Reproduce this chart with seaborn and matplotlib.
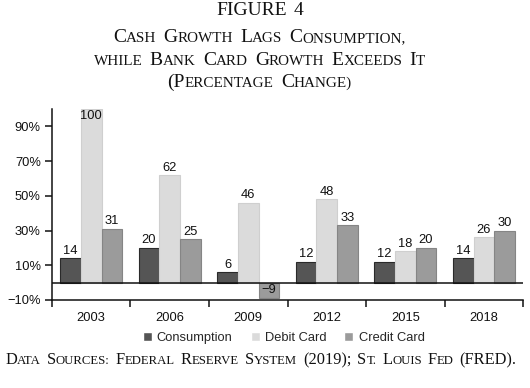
import numpy as np
import pandas as pd
import matplotlib
matplotlib.use("Agg")
import matplotlib.pyplot as plt
from matplotlib.offsetbox import TextArea, HPacker, AnchoredOffsetbox
from matplotlib.ticker import FixedLocator, FuncFormatter
import seaborn as sns

# Data
years = ["2003", "2006", "2009", "2012", "2015", "2018"]
series = ["Consumption", "Debit Card", "Credit Card"]
consumption = [14, 20, 6, 12, 12, 14]
debit_card = [100, 62, 46, 48, 18, 26]
credit_card = [31, 25, -9, 33, 20, 30]
y_ticks = [-10, 10, 30, 50, 70, 90]

colors = ["#555555", "#dbdbdb", "#9b9b9b"]
edges = ["#2a2a2a", "#cfcfcf", "#858585"]

SANS = "Liberation Sans"
SERIF = "Liberation Serif"
FS = 9.3

df = pd.DataFrame({
    "year": years * 3,
    "series": [s for s in series for _ in years],
    "value": consumption + debit_card + credit_card,
})

sns.set_theme(style="white")
plt.rcParams["font.family"] = [SANS, "DejaVu Sans"]


def small_caps(fig, text, x, y, size, loc="center", ratio=0.78, sep=0.36):
    """Fake small caps: lowercase letters drawn as smaller capitals."""
    words = []
    for word in text.split(" "):
        runs, cur, cur_small = [], "", False
        for ch in word:
            is_small = ch.islower() if ch.isalpha() else cur_small
            if cur and is_small != cur_small:
                runs.append((cur, cur_small))
                cur = ""
            cur += ch.upper() if is_small else ch
            cur_small = is_small
        if cur:
            runs.append((cur, cur_small))
        boxes = [TextArea(r, textprops=dict(fontsize=size * ratio if sm else size,
                                            family=SERIF, color="#111111"))
                 for r, sm in runs]
        words.append(HPacker(children=boxes, align="baseline", pad=0, sep=0))
    line = HPacker(children=words, align="baseline", pad=0, sep=size * sep)
    box = AnchoredOffsetbox(loc=loc, child=line, pad=0, borderpad=0, frameon=False,
                            bbox_to_anchor=(x, y), bbox_transform=fig.transFigure)
    fig.add_artist(box)


fig = plt.figure(figsize=(5.3, 3.88), dpi=100)
ax = fig.add_axes([0.098, 0.227, 0.889, 0.492])

sns.barplot(data=df, x="year", y="value", hue="series", palette=colors,
            width=0.79, saturation=1, ax=ax)

ymax = 100
for cont, ec in zip(ax.containers, edges):
    for bar in cont:
        bar.set_edgecolor(ec)
        bar.set_linewidth(0.8)
        v = bar.get_height()
        cx = bar.get_x() + bar.get_width() / 2
        if v >= ymax:
            # no room above the frame: label sits inside the bar top
            ax.annotate(f"{v:g}", (cx, v), xytext=(0, -1), textcoords="offset points",
                        ha="center", va="top", fontsize=FS, color="#111111")
        elif v >= 0:
            ax.annotate(f"{v:g}", (cx, v), xytext=(0, 1), textcoords="offset points",
                        ha="center", va="bottom", fontsize=FS, color="#111111")
        else:
            ax.annotate(f"\u2212{abs(v):g}", (cx, v / 2), ha="center", va="center",
                        fontsize=FS, color="#111111")

ax.axhline(0, color="#111111", lw=1.1, zorder=3)

ax.set_ylim(-10, ymax)
ax.set_xlim(-0.5, len(years) - 0.5)
ax.yaxis.set_major_locator(FixedLocator(y_ticks))
ax.yaxis.set_major_formatter(FuncFormatter(
    lambda v, p: f"\u2212{abs(v):.0f}%" if v < 0 else f"{v:.0f}%"))
ax.xaxis.set_minor_locator(FixedLocator(np.arange(-0.5, len(years), 1.0)))
ax.tick_params(axis="x", which="major", length=0, pad=8.5, labelsize=FS, colors="#111111")
ax.tick_params(axis="x", which="minor", length=5, width=1.1, direction="out",
               bottom=True, color="#111111")
ax.tick_params(axis="y", length=5, width=1.1, direction="out", left=True,
               labelsize=FS, colors="#111111", pad=3)
ax.set_xlabel("")
ax.set_ylabel("")
for side in ["top", "right"]:
    ax.spines[side].set_visible(False)
for side in ["left", "bottom"]:
    ax.spines[side].set_color("#111111")
    ax.spines[side].set_linewidth(1.1)

handles, labels = ax.get_legend_handles_labels()
ax.legend(handles, labels, loc="center", bbox_to_anchor=(0.535, 0.13),
          bbox_transform=fig.transFigure, ncol=3, frameon=False, fontsize=FS,
          handlelength=0.7, handleheight=0.7, handletextpad=0.4, columnspacing=1.4)

# title block
small_caps(fig, "FIGURE 4", 0.49, 0.972, 14)
small_caps(fig, "Cash Growth Lags Consumption,", 0.49, 0.903, 14)
small_caps(fig, "while Bank Card Growth Exceeds It", 0.49, 0.843, 14)
small_caps(fig, "(Percentage Change)", 0.49, 0.787, 14)
small_caps(fig, "Data Sources: Federal Reserve System (2019); St. Louis Fed (FRED).",
           0.01, 0.072, 11.8, loc="center left")

fig.savefig("out.png", dpi=100)
